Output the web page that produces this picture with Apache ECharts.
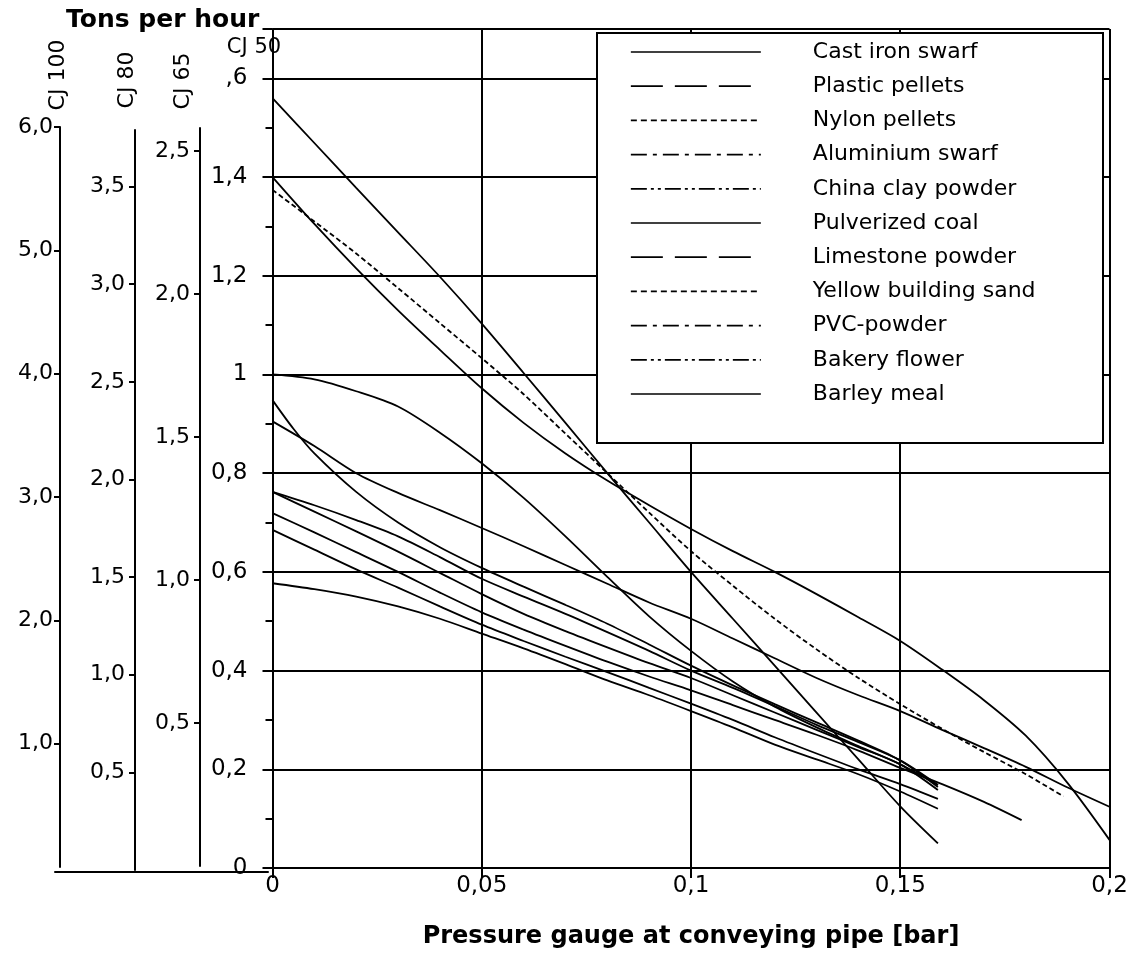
<!DOCTYPE html>
<html><head><meta charset="utf-8">
<script src="https://cdn.jsdelivr.net/npm/echarts@6/dist/echarts.min.js"></script>
<style>html,body{margin:0;padding:0;background:#fff}#c{width:1137px;height:978px}</style>
</head><body><div id="c"></div>
<script>
// ---- data ----
const materials = ['Cast iron swarf','Plastic pellets','Nylon pellets','Aluminium swarf','China clay powder','Pulverized coal','Limestone powder','Yellow building sand','PVC-powder','Bakery flower','Barley meal'];

// [pressure bar, tons per hour (CJ 50 scale)]
const castIronSwarf = [[0,1.56],[0.01,1.469],[0.02,1.378],[0.03,1.288],[0.04,1.198],[0.05,1.103],[0.06,1.003],[0.07,0.902],[0.08,0.80],[0.09,0.70],[0.10,0.60],[0.11,0.505],[0.12,0.41],[0.13,0.315],[0.14,0.22],[0.15,0.125],[0.159,0.05]];
const plasticPellets = [[0,1.0],[0.01,0.99],[0.02,0.966],[0.03,0.935],[0.04,0.882],[0.05,0.82],[0.06,0.75],[0.07,0.672],[0.08,0.59],[0.09,0.51],[0.10,0.44],[0.11,0.378],[0.12,0.327],[0.13,0.285],[0.14,0.247],[0.15,0.21],[0.159,0.168]];
const nylonPellets = [[0,0.577],[0.01,0.565],[0.02,0.55],[0.03,0.53],[0.04,0.505],[0.05,0.475],[0.06,0.445],[0.07,0.413],[0.08,0.38],[0.09,0.35],[0.10,0.318],[0.11,0.285],[0.12,0.25],[0.13,0.22],[0.14,0.19],[0.15,0.155],[0.159,0.12]];
const aluminiumSwarf = [[0,0.905],[0.01,0.855],[0.02,0.80],[0.03,0.76],[0.04,0.725],[0.05,0.689],[0.06,0.652],[0.07,0.614],[0.08,0.576],[0.09,0.538],[0.10,0.505],[0.11,0.465],[0.12,0.425],[0.13,0.385],[0.14,0.35],[0.15,0.318],[0.16,0.28],[0.17,0.243],[0.18,0.205],[0.19,0.163],[0.20,0.124]];
const chinaClayPowder = [[0,0.762],[0.01,0.735],[0.02,0.705],[0.03,0.672],[0.04,0.63],[0.05,0.586],[0.06,0.55],[0.07,0.515],[0.08,0.478],[0.09,0.44],[0.10,0.40],[0.11,0.365],[0.12,0.328],[0.13,0.29],[0.14,0.255],[0.15,0.218],[0.159,0.168]];
const pulverizedCoal = [[0,0.685],[0.01,0.645],[0.02,0.605],[0.03,0.568],[0.04,0.53],[0.05,0.493],[0.06,0.46],[0.07,0.428],[0.08,0.397],[0.09,0.365],[0.10,0.333],[0.11,0.30],[0.12,0.265],[0.13,0.232],[0.14,0.20],[0.15,0.17],[0.159,0.14]];
const limestonePowder = [[0,1.40],[0.01,1.305],[0.02,1.215],[0.03,1.13],[0.04,1.05],[0.05,0.972],[0.06,0.902],[0.07,0.84],[0.08,0.785],[0.09,0.735],[0.10,0.687],[0.11,0.642],[0.12,0.60],[0.13,0.555],[0.14,0.508],[0.15,0.46],[0.16,0.402],[0.17,0.34],[0.18,0.268],[0.19,0.172],[0.20,0.057]];
const yellowBuildingSand = [[0,1.374],[0.01,1.31],[0.02,1.245],[0.03,1.175],[0.04,1.104],[0.05,1.033],[0.06,0.96],[0.07,0.88],[0.08,0.80],[0.09,0.72],[0.10,0.642],[0.11,0.572],[0.12,0.505],[0.13,0.443],[0.14,0.385],[0.15,0.332],[0.16,0.282],[0.17,0.235],[0.18,0.19],[0.189,0.145]];
const pvcPowder = [[0,0.719],[0.01,0.68],[0.02,0.64],[0.03,0.60],[0.04,0.558],[0.05,0.518],[0.06,0.483],[0.07,0.45],[0.08,0.418],[0.09,0.388],[0.10,0.36],[0.11,0.33],[0.12,0.30],[0.13,0.27],[0.14,0.238],[0.15,0.203],[0.16,0.17],[0.17,0.134],[0.179,0.097]];
const bakeryFlower = [[0,0.948],[0.005,0.89],[0.01,0.84],[0.02,0.762],[0.03,0.70],[0.04,0.65],[0.05,0.608],[0.06,0.57],[0.07,0.533],[0.08,0.495],[0.09,0.453],[0.10,0.41],[0.11,0.37],[0.12,0.332],[0.13,0.295],[0.14,0.258],[0.15,0.218],[0.159,0.164]];
const barleyMeal = [[0,0.762],[0.01,0.722],[0.02,0.682],[0.03,0.641],[0.04,0.598],[0.05,0.555],[0.06,0.515],[0.07,0.48],[0.08,0.447],[0.09,0.415],[0.10,0.385],[0.11,0.35],[0.12,0.315],[0.13,0.28],[0.14,0.245],[0.15,0.21],[0.159,0.158]];
const seriesData = [castIronSwarf,plasticPellets,nylonPellets,aluminiumSwarf,chinaClayPowder,pulverizedCoal,limestonePowder,yellowBuildingSand,pvcPowder,bakeryFlower,barleyMeal];

// tick values
const pressureTicks = [0,0.05,0.1,0.15,0.2];
const cj50MinorTicks = [0.1,0.3,0.5,0.7,0.9,1.1,1.3,1.5];
const cj100Ticks = [1,2,3,4,5,6];
const cj80Ticks = [0.5,1,1.5,2,2.5,3,3.5];
const cj65Ticks = [0.5,1,1.5,2,2.5];

// ---- styles ----
const legendDash = ['solid',[32,12],[6,4],[16,6,4,6],[16,4,3,4,3,4],'solid',[32,12],[6,4],[16,6,4,6],[16,4,3,4,3,4],'solid'];
const plotDash = ['solid','solid','solid','solid','solid','solid','solid',[5,3],'solid','solid','solid'];
const FONT = "'DejaVu Sans'";
const INK = '#000';
const axisLineStyle = {color: INK, width: 2};

function comma(v, d){ return v.toFixed(d).replace('.', ','); }

const chart = echarts.init(document.getElementById('c'), null, {renderer:'canvas'});

const cjAxis = (grid, max, ticks, margin) => ({
  gridIndex: grid, type:'value', min:0, max:max, position:'left',
  axisLine:{show:true, lineStyle:axisLineStyle},
  axisTick:{show:true, length:6, lineStyle:axisLineStyle, customValues: ticks},
  axisLabel:{show:true, margin:margin, fontFamily:FONT, fontSize:22, color:INK, customValues: ticks,
    formatter: v => comma(v,1)},
  splitLine:{show:false}
});

const option = {
  animation:false,
  backgroundColor:'#fff',
  grid:[
    {left:272.5, right:27.5, top:29, bottom:110},
    {left:60, top:127, bottom:111, width:1},
    {left:135, top:130, bottom:108, width:1},
    {left:200, top:128, bottom:112, width:1},
    {left:55, width:213, top:860, bottom:106}
  ],
  xAxis:[
    {gridIndex:0, type:'value', min:0, max:0.2, interval:0.05,
     name:'Pressure gauge at conveying pipe [bar]', nameLocation:'middle', nameGap:57,
     nameTextStyle:{fontFamily:FONT, fontWeight:'bold', fontSize:24, color:INK},
     axisLine:{show:true, lineStyle:axisLineStyle},
     axisTick:{show:true, length:10, lineStyle:axisLineStyle},
     axisLabel:{margin:7, fontFamily:FONT, fontSize:23, color:INK,
       formatter: v => v === 0 ? '0' : String(+v.toFixed(3)).replace('.', ',')},
     splitLine:{show:true, lineStyle:axisLineStyle}},
    {gridIndex:1, type:'value', show:false, min:0, max:1},
    {gridIndex:2, type:'value', show:false, min:0, max:1},
    {gridIndex:3, type:'value', show:false, min:0, max:1},
    {gridIndex:4, type:'value', min:0, max:1, axisLine:{show:true, lineStyle:axisLineStyle},
     axisTick:{show:false}, axisLabel:{show:false}, splitLine:{show:false}}
  ],
  yAxis:[
    {gridIndex:0, type:'value', min:0, max:1.7, interval:0.2, position:'left',
     axisLine:{show:true, lineStyle:axisLineStyle},
     axisTick:{show:true, length:10, lineStyle:axisLineStyle},
     axisLabel:{margin:25, fontFamily:FONT, fontSize:23, color:INK,
       formatter: v => {
         const r = +v.toFixed(2);
         if (r === 0) return '0';
         if (r === 1) return '1';
         if (r === 1.6) return ',6';
         if (r > 1.6) return '';
         return comma(r,1);
       }},
     splitLine:{show:true, lineStyle:axisLineStyle}},
    {gridIndex:0, type:'value', min:0, max:1.7, position:'left', offset:0,
     axisLine:{show:false},
     axisTick:{show:true, length:7, lineStyle:axisLineStyle, customValues: cj50MinorTicks},
     axisLabel:{show:false}, splitLine:{show:false}},
    cjAxis(1, 6, cj100Ticks, 7),
    cjAxis(2, 3.79, cj80Ticks, 10),
    cjAxis(3, 2.58, cj65Ticks, 10),
    {gridIndex:4, type:'value', show:false}
  ],
  legend:{
    orient:'vertical', left:630, top:41, padding:0,
    itemWidth:130, itemHeight:22, itemGap:12.2, selectedMode:false, z:20,
    textStyle:{fontFamily:FONT, fontSize:22, color:INK, lineHeight:22, padding:[0,0,0,47]},
    data: materials.map((m,i) => ({name:m,
      itemStyle:{opacity:0, color:'rgba(0,0,0,0)', borderWidth:0},
      lineStyle:{type:legendDash[i], width:1.7, color:INK, opacity:1}}))
  },
  graphic:[
    {type:'rect', z:10, shape:{x:597, y:33, width:506, height:410},
     style:{fill:'#fff', stroke:INK, lineWidth:2}},
    {type:'text', z:10, x:66, y:20,
     style:{text:'Tons per hour', font:"bold 25px 'DejaVu Sans'", fill:INK, textAlign:'left', textVerticalAlign:'middle'}},
    {type:'text', z:10, x:58, y:75, rotation:Math.PI/2,
     style:{text:'CJ 100', font:"22px 'DejaVu Sans'", fill:INK, textAlign:'center', textVerticalAlign:'middle'}},
    {type:'text', z:10, x:127, y:80, rotation:Math.PI/2,
     style:{text:'CJ 80', font:"22px 'DejaVu Sans'", fill:INK, textAlign:'center', textVerticalAlign:'middle'}},
    {type:'text', z:10, x:183, y:81, rotation:Math.PI/2,
     style:{text:'CJ 65', font:"22px 'DejaVu Sans'", fill:INK, textAlign:'center', textVerticalAlign:'middle'}},
    {type:'text', z:10, x:254, y:48,
     style:{text:'CJ 50', font:"21px 'DejaVu Sans'", fill:INK, textAlign:'center', textVerticalAlign:'middle'}}
  ],
  series: materials.map((m,i) => ({
    name:m, type:'line', xAxisIndex:0, yAxisIndex:0,
    data: seriesData[i], symbol:'none', showSymbol:false,
    smooth:0.3,
    lineStyle:{color:INK, width:1.8, type:plotDash[i]},
    itemStyle:{color:INK}
  }))
};
chart.setOption(option);
</script></body></html>
